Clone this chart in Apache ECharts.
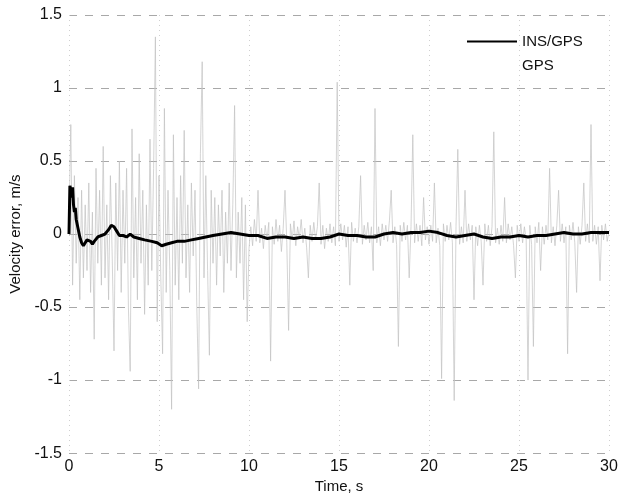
<!DOCTYPE html>
<html>
<head>
<meta charset="utf-8">
<script src="https://cdn.jsdelivr.net/npm/echarts@6/dist/echarts.min.js"></script>
<style>
html,body{margin:0;padding:0;background:#fff;}
#c{width:622px;height:499px;}
</style>
</head>
<body>
<div id="c"></div>
<script>
// ---- Data ----
var xTicks = [0, 5, 10, 15, 20, 25, 30];
var yTicks = [-1.5, -1, -0.5, 0, 0.5, 1, 1.5];

var insTime = [0, 0.05, 0.1, 0.15, 0.2, 0.25, 0.3, 0.35, 0.4,
  0.5, 0.6, 0.7, 0.8, 0.9, 1.0, 1.1, 1.2, 1.3, 1.4, 1.5, 1.6,
  1.8, 2.0, 2.2, 2.35, 2.5, 2.65, 2.8, 3.0, 3.2, 3.4, 3.6, 3.9, 4.2, 4.6, 4.9, 5.15, 5.4, 5.7, 6.0, 6.4, 6.8, 7.2, 7.6, 8.0,
  8.5, 9.0, 9.5, 10.0, 10.5, 11.0, 11.5, 12.0, 12.5, 13.0, 13.5, 14.0, 14.5, 15.0, 15.5, 16.0, 16.5, 17.0, 17.5, 18.0, 18.5,
  19.0, 19.5, 20.0, 20.5, 21.0, 21.5, 22.0, 22.5, 23.0, 23.5, 24.0, 24.5, 25.0, 25.5, 26.0, 26.5, 27.0, 27.5, 28.0, 28.5,
  29.0, 29.5, 30.0];
var insValue = [0, 0.33, 0.30, 0.25, 0.32, 0.2, 0.15, 0.18, 0.1,
  0.04, -0.02, -0.06, -0.08, -0.06, -0.04, -0.03, -0.05, -0.07, -0.05, -0.04, -0.02,
  -0.01, 0.0, 0.03, 0.06, 0.05, 0.02, -0.01, -0.01, -0.02, 0.0, -0.02, -0.03, -0.04, -0.05, -0.06, -0.08, -0.07, -0.06, -0.05, -0.05, -0.04, -0.03, -0.02, -0.01,
  0.0, 0.01, 0.0, -0.01, -0.01, -0.03, -0.02, -0.02, -0.03, -0.02, -0.03, -0.03, -0.02, 0.0, -0.01, -0.01, -0.02, -0.02, 0.0, 0.01,
  0.0, 0.01, 0.01, 0.02, 0.01, -0.01, -0.02, -0.01, 0.0, -0.02, -0.03, -0.02, -0.02, -0.01, -0.02, -0.01, -0.01, 0.0, 0.01, 0.0,
  0.0, 0.01, 0.01, 0.01];

var gpsTime = [
  0.0, 0.1, 0.2, 0.3, 0.4, 0.5, 0.6, 0.7, 0.8, 0.9,
  1.0, 1.1, 1.2, 1.3, 1.4, 1.5, 1.6, 1.7, 1.8, 1.9,
  2.0, 2.1, 2.2, 2.3, 2.4, 2.5, 2.6, 2.7, 2.8, 2.9,
  3.0, 3.1, 3.2, 3.3, 3.4, 3.5, 3.6, 3.7, 3.8, 3.9,
  4.0, 4.1, 4.2, 4.3, 4.4, 4.5, 4.6, 4.7, 4.8, 4.9,
  5.0, 5.1, 5.2, 5.3, 5.4, 5.5, 5.6, 5.7, 5.8, 5.9,
  6.0, 6.1, 6.2, 6.3, 6.4, 6.5, 6.6, 6.7, 6.8, 6.9,
  7.0, 7.1, 7.2, 7.3, 7.4, 7.5, 7.6, 7.7, 7.8, 7.9,
  8.0, 8.1, 8.2, 8.3, 8.4, 8.5, 8.6, 8.7, 8.8, 8.9,
  9.0, 9.1, 9.2, 9.3, 9.4, 9.5, 9.6, 9.7, 9.8, 9.9,
  10.0, 10.1, 10.2, 10.3, 10.4, 10.5, 10.6, 10.7, 10.8, 10.9,
  11.0, 11.1, 11.2, 11.3, 11.4, 11.5, 11.6, 11.7, 11.8, 11.9,
  12.0, 12.1, 12.2, 12.3, 12.4, 12.5, 12.6, 12.7, 12.8, 12.9,
  13.0, 13.1, 13.2, 13.3, 13.4, 13.5, 13.6, 13.7, 13.8, 13.9,
  14.0, 14.1, 14.2, 14.3, 14.4, 14.5, 14.6, 14.7, 14.8, 14.9,
  15.0, 15.1, 15.2, 15.3, 15.4, 15.5, 15.6, 15.7, 15.8, 15.9,
  16.0, 16.1, 16.2, 16.3, 16.4, 16.5, 16.6, 16.7, 16.8, 16.9,
  17.0, 17.1, 17.2, 17.3, 17.4, 17.5, 17.6, 17.7, 17.8, 17.9,
  18.0, 18.1, 18.2, 18.3, 18.4, 18.5, 18.6, 18.7, 18.8, 18.9,
  19.0, 19.1, 19.2, 19.3, 19.4, 19.5, 19.6, 19.7, 19.8, 19.9,
  20.0, 20.1, 20.2, 20.3, 20.4, 20.5, 20.6, 20.7, 20.8, 20.9,
  21.0, 21.1, 21.2, 21.3, 21.4, 21.5, 21.6, 21.7, 21.8, 21.9,
  22.0, 22.1, 22.2, 22.3, 22.4, 22.5, 22.6, 22.7, 22.8, 22.9,
  23.0, 23.1, 23.2, 23.3, 23.4, 23.5, 23.6, 23.7, 23.8, 23.9,
  24.0, 24.1, 24.2, 24.3, 24.4, 24.5, 24.6, 24.7, 24.8, 24.9,
  25.0, 25.1, 25.2, 25.3, 25.4, 25.5, 25.6, 25.7, 25.8, 25.9,
  26.0, 26.1, 26.2, 26.3, 26.4, 26.5, 26.6, 26.7, 26.8, 26.9,
  27.0, 27.1, 27.2, 27.3, 27.4, 27.5, 27.6, 27.7, 27.8, 27.9,
  28.0, 28.1, 28.2, 28.3, 28.4, 28.5, 28.6, 28.7, 28.8, 28.9,
  29.0, 29.1, 29.2, 29.3, 29.4, 29.5, 29.6, 29.7, 29.8, 29.9,
  30.0];
var gpsValue = [
  0.1, 0.75, -0.35, 0.4, -0.2, 0.25, -0.45, 0.3, -0.3, 0.2,
  -0.25, 0.35, -0.4, 0.15, -0.72, 0.45, -0.2, 0.3, -0.35, 0.6,
  -0.3, 0.2, -0.45, 0.4, -0.15, -0.8, 0.35, -0.25, 0.5, -0.4,
  0.3, -0.2, 0.45, -0.5, -0.94, 0.72, -0.3, 0.25, -0.45, 0.55,
  -0.2, 0.3, -0.55, 0.2, -0.35, 0.65, -0.25, 0.45, 1.35, -0.6,
  0.4, -0.3, -0.82, 0.86, -0.4, 0.3, -0.25, -1.2, 0.68, -0.35,
  0.25, -0.45, 0.4, -0.2, 0.71, -0.3, 0.2, -0.4, 0.35, -0.15,
  0.3, -0.5, -1.06, 0.55, 1.18, -0.3, 0.4, -0.25, -0.83, 0.3,
  -0.2, 0.25, -0.35, 0.2, -0.15, 0.3, -0.4, 0.15, -0.2, 0.35,
  -0.25, 0.2, 0.88, -0.3, 0.15, -0.2, 0.25, -0.45, 0.2, -0.6,
  -0.1, 0.05, -0.08, 0.1, -0.05, 0.3, -0.06, 0.04, -0.1, 0.06,
  -0.04, 0.08, -0.87, 0.05, -0.07, 0.1, -0.05, 0.06, -0.12, 0.04,
  0.3, -0.06, -0.66, 0.07, -0.04, 0.09, -0.08, 0.05, -0.03, 0.1,
  -0.06, 0.04, -0.09, -0.3, 0.06, -0.05, 0.08, -0.04, 0.05, 0.35,
  -0.07, 0.06, -0.1, 0.04, -0.05, 0.07, -0.06, 0.05, -0.08, 1.04,
  -0.05, 0.07, -0.04, 0.06, -0.09, 0.05, -0.35, 0.08, -0.05, 0.04,
  -0.06, 0.05, 0.4, -0.07, 0.06, -0.04, 0.08, -0.06, 0.05, -0.25,
  0.86, -0.06, 0.05, -0.08, 0.07, -0.04, 0.06, -0.05, 0.09, 0.3,
  -0.06, 0.05, -0.07, -0.77, 0.06, -0.05, 0.08, -0.04, 0.06, -0.3,
  0.05, 0.68, -0.06, 0.07, -0.05, 0.06, -0.08, 0.25, -0.04, 0.05,
  -0.07, 0.06, -0.05, 0.35, -0.06, 0.04, -0.08, -0.99, 0.07, -0.05,
  0.06, -0.04, 0.08, -0.06, -1.14, 0.05, 0.58, -0.07, 0.05, -0.06,
  0.3, -0.05, 0.07, -0.04, 0.06, -0.45, 0.05, -0.08, 0.06, -0.05,
  -0.35, 0.07, -0.05, 0.06, -0.08, 0.05, 0.7, -0.06, 0.04, -0.07,
  0.06, -0.05, 0.25, -0.06, 0.07, -0.04, 0.05, -0.08, -0.3, 0.06,
  -0.05, 0.07, -0.06, 0.05, -0.04, -1.0, 0.06, -0.07, -0.77, 0.05,
  -0.06, 0.08, -0.25, 0.05, -0.07, 0.06, -0.04, 0.45, -0.06, 0.05,
  -0.08, 0.06, 0.3, -0.05, 0.07, -0.06, 0.05, -0.82, 0.06, -0.04,
  0.08, -0.06, -0.4, 0.05, -0.07, 0.06, 0.35, -0.05, 0.07, -0.06,
  0.75, -0.05, 0.06, -0.07, 0.05, -0.32, 0.06, -0.04, 0.07, -0.05,
  0.02];

function pairs(xs, ys) {
  var n = Math.min(xs.length, ys.length), out = [];
  for (var i = 0; i < n; i++) out.push([xs[i], ys[i]]);
  return out;
}

var chart = echarts.init(document.getElementById('c'), null, {renderer: 'canvas'});
var font = 'Liberation Sans, Arial, sans-serif';

chart.setOption({
  backgroundColor: '#ffffff',
  animation: false,
  grid: {left: 67, right: 13, top: 15, bottom: 44},
  legend: {
    orient: 'vertical',
    left: 461, top: 29,
    itemWidth: 50, itemHeight: 10, itemGap: 9,
    textStyle: {fontFamily: font, fontSize: 15, color: '#111'},
    data: [
      {name: 'INS/GPS', itemStyle: {opacity: 0}},
      {name: 'GPS', lineStyle: {opacity: 0}, itemStyle: {opacity: 0}}
    ]
  },
  xAxis: {
    type: 'value', min: 0, max: 30, interval: 5,
    name: 'Time, s', nameLocation: 'middle', nameGap: 24,
    nameTextStyle: {fontFamily: font, fontSize: 15, color: '#111'},
    axisLine: {show: false}, axisTick: {show: false},
    axisLabel: {fontFamily: font, fontSize: 16, color: '#111', margin: 5,
      formatter: function (v) { return xTicks.indexOf(v) >= 0 ? String(v) : ''; }},
    splitLine: {show: true, lineStyle: {color: '#d0d0d0', width: 1, type: [1, 4]}}
  },
  yAxis: {
    type: 'value', min: -1.5, max: 1.5, interval: 0.5,
    name: 'Velocity error, m/s', nameLocation: 'middle', nameGap: 46,
    nameTextStyle: {fontFamily: font, fontSize: 15, color: '#111'},
    axisLine: {show: false}, axisTick: {show: false},
    axisLabel: {fontFamily: font, fontSize: 16, color: '#111', margin: 7,
      formatter: function (v) { return yTicks.indexOf(v) >= 0 ? String(v) : ''; }},
    splitLine: {show: true, lineStyle: {color: '#a8a8a8', width: 1, type: [8, 8]}}
  },
  series: [
    {
      name: 'GPS', type: 'line', symbol: 'none',
      data: pairs(gpsTime, gpsValue),
      lineStyle: {color: '#c2c2c2', width: 0.7},
      itemStyle: {color: '#c2c2c2'},
      z: 1
    },
    {
      name: 'INS/GPS', type: 'line', symbol: 'none',
      data: pairs(insTime, insValue),
      lineStyle: {color: '#000000', width: 3},
      itemStyle: {color: '#000000'},
      z: 3
    }
  ]
});
</script>
</body>
</html>
